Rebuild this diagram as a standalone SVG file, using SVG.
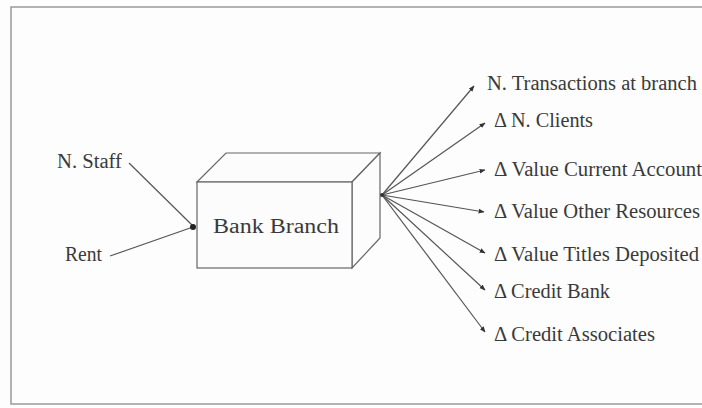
<svg xmlns="http://www.w3.org/2000/svg" width="702" height="408" viewBox="0 0 702 408">
<defs>
<marker id="ah" viewBox="0 0 10 10" refX="9" refY="5" markerWidth="6" markerHeight="6" orient="auto" markerUnits="userSpaceOnUse"><path d="M0,1 L10,5 L0,9 Z" fill="#333"/></marker>
<style>
text{font-family:"Liberation Serif","Times New Roman","DejaVu Serif",serif;fill:#3a3a3a;font-size:20px}
.c line{stroke:#555;stroke-width:1.2}
.box{fill:#fcfcfc;stroke:#666;stroke-width:1.2}
</style>
</defs>
<rect x="0" y="0" width="702" height="408" fill="#fdfdfd"/>
<path d="M702,7 H11 V404 H702" fill="none" stroke="#999" stroke-width="1.5"/>
<g id="bank-branch">
<polygon class="box" points="197,182 226,153 380,153 352,182"/>
<polygon class="box" points="352,182 380,153 380,238 352,268" fill="#f4f4f4"/>
<rect class="box" x="197" y="182" width="155" height="86"/>
<text x="213" y="233" font-size="24" textLength="126" lengthAdjust="spacingAndGlyphs">Bank Branch</text>
</g>
<g id="n-staff"><text x="57" y="168" textLength="65" lengthAdjust="spacingAndGlyphs">N. Staff</text></g>
<g id="rent"><text x="65" y="261" textLength="37" lengthAdjust="spacingAndGlyphs">Rent</text></g>
<g id="o1"><text x="487" y="90" textLength="210" lengthAdjust="spacingAndGlyphs">N. Transactions at branch</text></g>
<g id="o2"><text x="494" y="127" textLength="99" lengthAdjust="spacingAndGlyphs">Δ N. Clients</text></g>
<g id="o3"><text x="494" y="176" textLength="208" lengthAdjust="spacingAndGlyphs">Δ Value Current Account</text></g>
<g id="o4"><text x="494" y="218" textLength="206" lengthAdjust="spacingAndGlyphs">Δ Value Other Resources</text></g>
<g id="o5"><text x="494" y="261" textLength="205" lengthAdjust="spacingAndGlyphs">Δ Value Titles Deposited</text></g>
<g id="o6"><text x="494" y="298" textLength="116" lengthAdjust="spacingAndGlyphs">Δ Credit Bank</text></g>
<g id="o7"><text x="494" y="341" textLength="161" lengthAdjust="spacingAndGlyphs">Δ Credit Associates</text></g>
<g class="c" id="connectors">
<line x1="129" y1="163" x2="193" y2="226"/>
<line x1="110" y1="256" x2="193" y2="227"/>
<circle cx="193" cy="227" r="3" fill="#222"/>
<line x1="382" y1="195" x2="474" y2="86" marker-end="url(#ah)"/>
<line x1="382" y1="195" x2="485" y2="123" marker-end="url(#ah)"/>
<line x1="382" y1="195" x2="485" y2="170" marker-end="url(#ah)"/>
<line x1="382" y1="195" x2="484" y2="212" marker-end="url(#ah)"/>
<line x1="382" y1="195" x2="485" y2="253" marker-end="url(#ah)"/>
<line x1="382" y1="195" x2="485" y2="290" marker-end="url(#ah)"/>
<line x1="382" y1="195" x2="485" y2="332" marker-end="url(#ah)"/>
<circle cx="382" cy="195" r="2" fill="#333"/>
</g>
</svg>
